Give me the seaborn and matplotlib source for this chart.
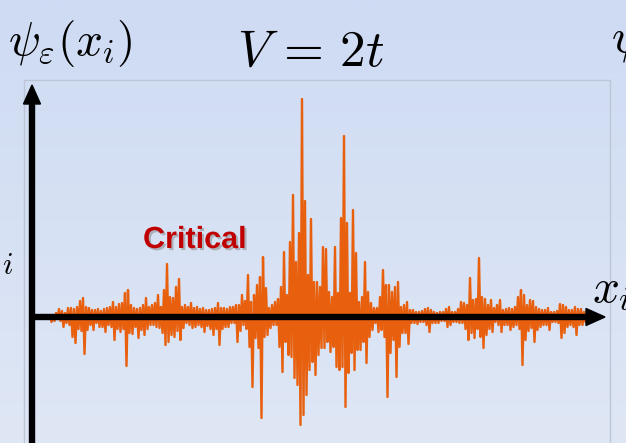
import numpy as np
import pandas as pd
import seaborn as sns
import matplotlib.pyplot as plt
import matplotlib.patheffects as pe
from matplotlib.patches import Rectangle, FancyArrow

# wavefunction envelope at the critical point (arbitrary units)
# upper = positive amplitude, lower = magnitude of the negative amplitude
upper = [1, 1, 1, 2, 2, 2, 2, 4, 8, 6,
         4, 9, 9, 8, 10, 16, 19, 10, 9, 7,
         7, 8, 6, 8, 9, 10, 15, 10, 13, 14,
         24, 27, 12, 9, 8, 9, 12, 19, 10, 12,
         14, 22, 10, 27, 53, 20, 19, 30, 38, 10,
         12, 10, 14, 9, 10, 8, 9, 7, 7, 8,
         9, 14, 9, 9, 8, 10, 10, 12, 12, 22,
         16, 42, 15, 22, 32, 40, 60, 29, 9, 12,
         15, 18, 30, 65, 22, 75, 122, 55, 84, 218,
         116, 42, 98, 35, 35, 30, 70, 68, 25, 20,
         70, 24, 99, 181, 94, 24, 107, 64, 15, 20,
         55, 25, 14, 9, 9, 20, 47, 32, 32, 25,
         30, 35, 10, 12, 15, 7, 7, 5, 5, 6,
         8, 9, 7, 5, 4, 5, 5, 8, 10, 5,
         5, 8, 15, 14, 12, 39, 17, 18, 59, 20,
         18, 12, 17, 9, 12, 17, 7, 8, 9, 8,
         10, 20, 27, 22, 12, 17, 16, 10, 8, 7,
         7, 9, 5, 5, 6, 13, 12, 10, 7, 7,
         10, 8, 8, 5, 3]
lower = [1, 1, 1, 1, 2, 5, 4, 2, 4, 10,
         6, 8, 20, 26, 12, 14, 37, 13, 8, 13,
         6, 10, 10, 15, 8, 10, 23, 12, 15, 12,
         49, 16, 17, 10, 21, 13, 18, 12, 8, 8,
         10, 11, 16, 28, 25, 18, 20, 14, 23, 11,
         6, 8, 11, 10, 8, 10, 15, 9, 12, 18,
         12, 28, 12, 10, 10, 6, 6, 25, 14, 8,
         12, 30, 70, 21, 31, 101, 20, 18, 11, 8,
         8, 30, 55, 25, 38, 40, 61, 68, 108, 98,
         78, 53, 45, 58, 38, 31, 31, 25, 35, 30,
         50, 53, 50, 90, 56, 36, 53, 33, 33, 25,
         46, 20, 13, 6, 15, 13, 20, 80, 36, 23,
         60, 30, 16, 16, 27, 6, 6, 7, 5, 5,
         8, 15, 6, 6, 6, 4, 4, 10, 8, 5,
         5, 6, 6, 12, 23, 16, 21, 12, 20, 31,
         18, 12, 15, 5, 8, 15, 8, 8, 13, 10,
         8, 12, 48, 23, 14, 11, 25, 13, 10, 8,
         8, 13, 5, 5, 6, 21, 16, 10, 8, 10,
         18, 8, 8, 5, 3]

# neighbouring sites alternate in sign
psi = []
for u, l in zip(upper, lower):
    psi.append(u)
    psi.append(-l)
df = pd.DataFrame({'site': np.arange(len(psi)), 'psi': psi})

plt.rcParams['mathtext.fontset'] = 'cm'
W, H = 626, 443
fig = plt.figure(figsize=(W / 100, H / 100), dpi=100)

# background gradient + frame, in pixel coordinates
bg = fig.add_axes([0, 0, 1, 1], zorder=0)
top = np.array([206, 219, 243]) / 255
bot = np.array([223, 231, 245]) / 255
t = np.linspace(0, 1, 256)[:, None, None]
grad = top * (1 - t) + bot * t
bg.imshow(np.repeat(grad, 2, axis=1), extent=[0, W, H, 0], aspect='auto')
bg.set_xlim(0, W)
bg.set_ylim(H, 0)
bg.add_patch(Rectangle((24, 80), 586, 380, fill=False, ec='#bcc6d6', lw=1))
bg.axis('off')

# data axes: site spacing 1.5 px starting at x = 35 px, zero line at y = 317 px
ax = fig.add_axes([0, 0, 1, 1], zorder=1)
ax.patch.set_alpha(0)
sns.lineplot(data=df, x='site', y='psi', color='#E8600E', lw=1.7, ax=ax, sort=False)
ax.set_xlim(-35 / 1.5, (W - 35) / 1.5)
ax.set_ylim(-(H - 317), 317)
ax.axis('off')

# overlay: axes arrows and labels
ov = fig.add_axes([0, 0, 1, 1], zorder=2)
ov.patch.set_alpha(0)
ov.set_xlim(0, W)
ov.set_ylim(H, 0)
ov.axis('off')
ov.add_patch(FancyArrow(32, 450, 0, -365, width=5, head_width=17, head_length=19,
                        length_includes_head=True, color='black'))
ov.add_patch(FancyArrow(30, 317, 575, 0, width=5, head_width=17, head_length=19,
                        length_includes_head=True, color='black'))

ov.text(8, 43, r'$\psi_\varepsilon(x_i)$', fontsize=34, ha='left', va='center')
ov.text(311, 52, r'$V\,=\,2t$', fontsize=37, ha='center', va='center')
ov.text(592, 290, r'$x_i$', fontsize=34, ha='left', va='center')
ov.text(2, 265, r'$i$', fontsize=22, ha='left', va='center')
ov.text(611, 40, r'$\psi$', fontsize=34, ha='left', va='center')
ov.text(143, 240, 'Critical', fontsize=22, fontweight='bold', color='#C00000',
        family='Liberation Sans', ha='left', va='center',
        path_effects=[pe.withSimplePatchShadow(offset=(1.5, -1.5), shadow_rgbFace='gray', alpha=0.5)])

fig.savefig('out.png', dpi=100)
